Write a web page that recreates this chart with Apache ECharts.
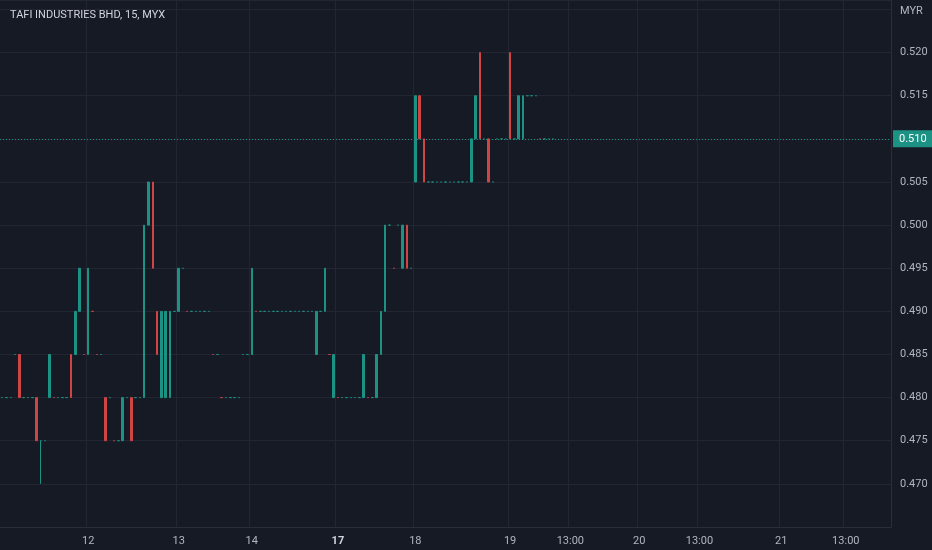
<!DOCTYPE html>
<html>
<head>
<meta charset="utf-8">
<script src="https://cdn.jsdelivr.net/npm/echarts@6/dist/echarts.min.js"></script>
<style>
  html, body { margin: 0; padding: 0; background: #161a25; }
  #chart { width: 932px; height: 550px; }
</style>
</head>
<body>
<div id="chart"></div>
<script>
// 15 min bars, prices in MYR: [open, close, low, high]
const bars = [
  [0.480,0.480,0.480,0.480],[0.480,0.480,0.480,0.480],[0.480,0.480,0.480,0.480],[0.485,0.485,0.485,0.485],
  [0.485,0.480,0.480,0.485],[0.480,0.480,0.480,0.480],[0.480,0.480,0.480,0.480],[0.480,0.480,0.480,0.480],
  [0.480,0.475,0.475,0.480],[0.475,0.475,0.470,0.475],[0.475,0.475,0.475,0.475],[0.480,0.485,0.480,0.485],
  [0.480,0.480,0.480,0.480],[0.480,0.480,0.480,0.480],[0.480,0.480,0.480,0.480],[0.480,0.480,0.480,0.480],
  [0.485,0.480,0.480,0.485],[0.485,0.490,0.485,0.490],[0.490,0.495,0.490,0.495],[0.485,0.485,0.485,0.485],
  [0.485,0.495,0.485,0.495],[0.490,0.490,0.490,0.490],[0.485,0.485,0.485,0.485],[0.485,0.485,0.485,0.485],
  [0.480,0.475,0.475,0.480],[0.480,0.480,0.480,0.480],[0.475,0.475,0.475,0.475],[0.475,0.475,0.475,0.475],
  [0.475,0.480,0.475,0.480],[0.480,0.480,0.480,0.480],[0.480,0.475,0.475,0.480],[0.480,0.480,0.480,0.480],
  [0.480,0.480,0.480,0.480],[0.480,0.500,0.480,0.500],[0.500,0.505,0.500,0.505],[0.505,0.495,0.495,0.505],
  [0.490,0.485,0.485,0.490],[0.480,0.490,0.480,0.490],[0.480,0.490,0.480,0.490],[0.480,0.490,0.480,0.490],
  [0.490,0.490,0.490,0.490],[0.490,0.495,0.490,0.495],[0.495,0.495,0.495,0.495],[0.490,0.490,0.490,0.490],
  [0.490,0.490,0.490,0.490],[0.490,0.490,0.490,0.490],[0.490,0.490,0.490,0.490],[0.490,0.490,0.490,0.490],
  [0.490,0.490,0.490,0.490],[0.485,0.485,0.485,0.485],[0.485,0.485,0.485,0.485],[0.480,0.480,0.480,0.480],
  [0.480,0.480,0.480,0.480],[0.480,0.480,0.480,0.480],[0.480,0.480,0.480,0.480],[0.480,0.480,0.480,0.480],
  [0.485,0.485,0.485,0.485],[0.485,0.485,0.485,0.485],[0.485,0.495,0.485,0.495],[0.490,0.490,0.490,0.490],
  [0.490,0.490,0.490,0.490],[0.490,0.490,0.490,0.490],[0.490,0.490,0.490,0.490],[0.490,0.490,0.490,0.490],
  [0.490,0.490,0.490,0.490],[0.490,0.490,0.490,0.490],[0.490,0.490,0.490,0.490],[0.490,0.490,0.490,0.490],
  [0.490,0.490,0.490,0.490],[0.490,0.490,0.490,0.490],[0.490,0.490,0.490,0.490],[0.490,0.490,0.490,0.490],
  [0.490,0.490,0.490,0.490],[0.485,0.490,0.485,0.490],[0.490,0.490,0.490,0.490],[0.490,0.495,0.490,0.495],
  [0.485,0.485,0.485,0.485],[0.480,0.485,0.480,0.485],[0.480,0.480,0.480,0.480],[0.480,0.480,0.480,0.480],
  [0.480,0.480,0.480,0.480],[0.480,0.480,0.480,0.480],[0.480,0.480,0.480,0.480],[0.480,0.480,0.480,0.480],
  [0.480,0.485,0.480,0.485],[0.480,0.480,0.480,0.480],[0.480,0.480,0.480,0.480],[0.480,0.485,0.480,0.485],
  [0.485,0.490,0.485,0.490],[0.490,0.500,0.490,0.500],[0.500,0.500,0.500,0.500],[0.495,0.495,0.495,0.495],
  [0.500,0.500,0.500,0.500],[0.495,0.500,0.495,0.500],[0.500,0.495,0.495,0.500],[0.495,0.495,0.495,0.495],
  [0.505,0.515,0.505,0.515],[0.515,0.510,0.510,0.515],[0.510,0.505,0.505,0.510],[0.505,0.505,0.505,0.505],
  [0.505,0.505,0.505,0.505],[0.505,0.505,0.505,0.505],[0.505,0.505,0.505,0.505],[0.505,0.505,0.505,0.505],
  [0.505,0.505,0.505,0.505],[0.505,0.505,0.505,0.505],[0.505,0.505,0.505,0.505],[0.505,0.505,0.505,0.505],
  [0.505,0.505,0.505,0.505],[0.505,0.510,0.505,0.510],[0.510,0.515,0.510,0.515],[0.520,0.510,0.510,0.520],
  [0.510,0.510,0.510,0.510],[0.510,0.505,0.505,0.510],[0.505,0.505,0.505,0.505],[0.510,0.510,0.510,0.510],
  [0.510,0.510,0.510,0.510],[0.510,0.510,0.510,0.510],[0.520,0.510,0.510,0.520],[0.510,0.510,0.510,0.510],
  [0.510,0.515,0.510,0.515],[0.510,0.515,0.510,0.515],[0.515,0.515,0.515,0.515],[0.515,0.515,0.515,0.515],
  [0.515,0.515,0.515,0.515],[0.510,0.510,0.510,0.510],[0.510,0.510,0.510,0.510],[0.510,0.510,0.510,0.510],
  [0.510,0.510,0.510,0.510]
];
const totalSlots = 207;
const tickIndex = [20, 41, 58, 78, 96, 118, 132, 148, 162, 181, 196];
const tickText = ['12', '13', '14', '17', '18', '19', '13:00', '20', '13:00', '21', '13:00'];
const lastPrice = 0.510;

const up = '#1c9284', down = '#cf4444';

const categories = [];
for (let i = 0; i < totalSlots; i++) {
    const k = tickIndex.indexOf(i);
    categories.push(k >= 0 ? tickText[k] : '');
}
const showTick = (i) => tickIndex.indexOf(i) >= 0;

const chart = echarts.init(document.getElementById('chart'));
chart.setOption({
    backgroundColor: '#161a25',
    animation: false,
    title: {
        text: 'TAFI INDUSTRIES BHD, 15, MYX',
        left: 5, top: 5,
        textStyle: {color: '#d1d4dc', fontSize: 11, fontWeight: 'normal', fontFamily: 'Roboto'}
    },
    graphic: [{
        type: 'text', left: 900, top: 6,
        style: {text: 'MYR', fill: '#b2b5be', fontSize: 11, fontFamily: 'Roboto'}
    }],
    grid: {left: 0, right: 41, top: 0, bottom: 23},
    xAxis: {
        type: 'category',
        data: categories,
        boundaryGap: true,
        axisLine: {lineStyle: {color: '#2a2e39'}},
        axisTick: {show: false},
        axisLabel: {
            interval: (i) => showTick(i),
            color: '#b2b5be', fontSize: 11, fontFamily: 'Roboto', margin: 9,
            formatter: (v) => v === '17' ? '{b|17}' : v,
            rich: {b: {fontWeight: 'bold', color: '#d1d4dc', fontSize: 11}}
        },
        splitLine: {show: true, interval: (i) => showTick(i), lineStyle: {color: '#232632'}}
    },
    yAxis: {
        type: 'value',
        position: 'right',
        min: 0.465, max: 0.5261, interval: 0.005,
        axisLine: {show: true, lineStyle: {color: '#2a2e39'}},
        axisTick: {show: false},
        axisLabel: {
            color: '#b2b5be', fontSize: 11, fontFamily: 'Roboto', margin: 9,
            showMaxLabel: false,
            formatter: (v) => (v < 0.4675 || v > 0.5225) ? '' : v.toFixed(3)
        },
        splitLine: {lineStyle: {color: '#232632'}}
    },
    series: [{
        type: 'candlestick',
        data: bars,
        barWidth: 2,
        itemStyle: {color: up, color0: down, borderColor: up, borderColor0: down, borderWidth: 1},
        markLine: {
            symbol: 'none', silent: true,
            lineStyle: {color: up, type: [1, 2], width: 1},
            label: {
                position: 'end', formatter: lastPrice.toFixed(3),
                backgroundColor: up, color: '#ffffff', fontSize: 11, fontFamily: 'Roboto',
                padding: [3, 6], distance: 2
            },
            data: [{yAxis: lastPrice}]
        }
    }]
});
</script>
</body>
</html>
